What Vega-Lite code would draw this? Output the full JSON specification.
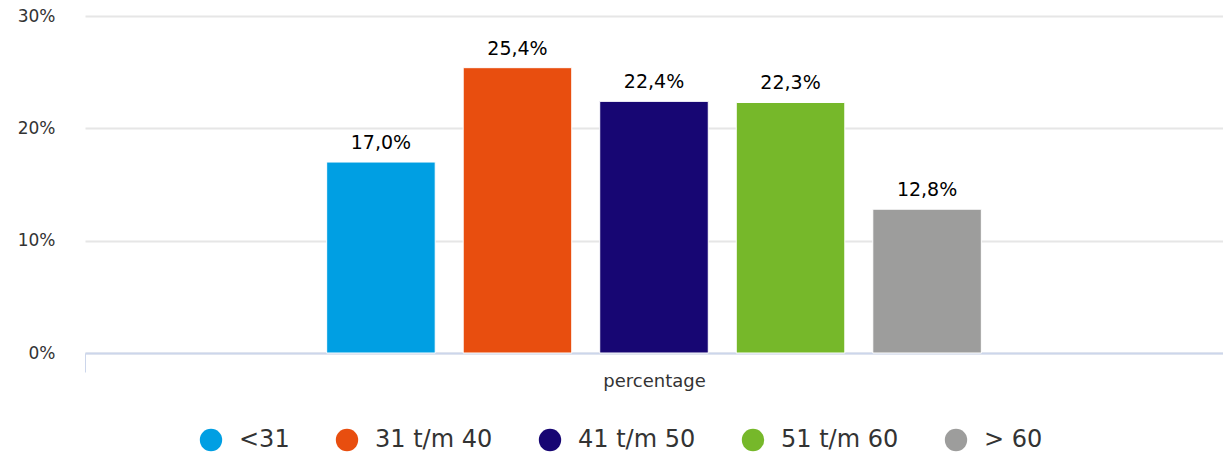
{
  "$schema": "https://vega.github.io/schema/vega-lite/v6.json",
  "width": 1138,
  "height": 337,
  "autosize": {"type": "none"},
  "padding": {"left": 85, "top": 16, "right": 0, "bottom": 103},
  "background": "white",
  "data": {
    "values": [
      {"category": "percentage", "group": "<31", "value": 0.170},
      {"category": "percentage", "group": "31 t/m 40", "value": 0.254},
      {"category": "percentage", "group": "41 t/m 50", "value": 0.224},
      {"category": "percentage", "group": "51 t/m 60", "value": 0.223},
      {"category": "percentage", "group": "> 60", "value": 0.128}
    ]
  },
  "encoding": {
    "x": {
      "field": "category",
      "type": "nominal",
      "title": null,
      "scale": {"paddingInner": 0, "paddingOuter": 0},
      "axis": {
        "labelAngle": 0,
        "labelFont": "DejaVu Sans",
        "labelFontSize": 18,
        "labelColor": "#333333",
        "labelPadding": 0,
        "domainColor": "#ccd6eb",
        "domainWidth": 2,
        "tickColor": "#ccd6eb",
        "tickWidth": 1,
        "tickSize": 19,
        "tickBand": "extent",
        "grid": false
      }
    },
    "xOffset": {
      "field": "group",
      "type": "nominal",
      "scale": {
        "domain": ["_pad_left", "<31", "31 t/m 40", "41 t/m 50", "51 t/m 60", "> 60", "_pad_right"],
        "paddingInner": 0.205,
        "paddingOuter": 0.77
      }
    },
    "y": {
      "field": "value",
      "type": "quantitative",
      "title": null,
      "scale": {"domain": [0, 0.3], "nice": false},
      "axis": {
        "values": [0, 0.1, 0.2, 0.3],
        "format": ".0%",
        "domain": false,
        "ticks": false,
        "labelPadding": 30,
        "labelFont": "DejaVu Sans",
        "labelFontSize": 17,
        "labelColor": "#333333",
        "gridColor": "#e6e6e6",
        "gridWidth": 2
      }
    }
  },
  "layer": [
    {
      "mark": {"type": "bar", "stroke": "white", "strokeWidth": 1},
      "encoding": {
        "color": {
          "field": "group",
          "type": "nominal",
          "scale": {
            "domain": ["<31", "31 t/m 40", "41 t/m 50", "51 t/m 60", "> 60"],
            "range": ["#009fe3", "#e84e0f", "#170673", "#76b82a", "#9d9d9c"]
          },
          "legend": {
            "title": null,
            "orient": "none",
            "direction": "horizontal",
            "legendX": 114,
            "legendY": 412,
            "symbolType": "circle",
            "symbolSize": 500,
            "symbolStrokeWidth": 0,
            "labelFont": "DejaVu Sans",
            "labelFontSize": 24,
            "labelColor": "#333333",
            "labelOffset": 16,
            "columnPadding": 45,
            "labelLimit": 300
          }
        }
      }
    },
    {
      "mark": {
        "type": "text",
        "baseline": "alphabetic",
        "dy": -13,
        "font": "DejaVu Sans",
        "fontSize": 19,
        "color": "#000000"
      },
      "encoding": {
        "text": {"field": "value", "type": "quantitative", "format": ".1%"}
      }
    }
  ],
  "config": {
    "view": {"stroke": null},
    "locale": {
      "number": {"decimal": ",", "thousands": ".", "grouping": [3], "currency": ["€", ""]}
    }
  }
}
